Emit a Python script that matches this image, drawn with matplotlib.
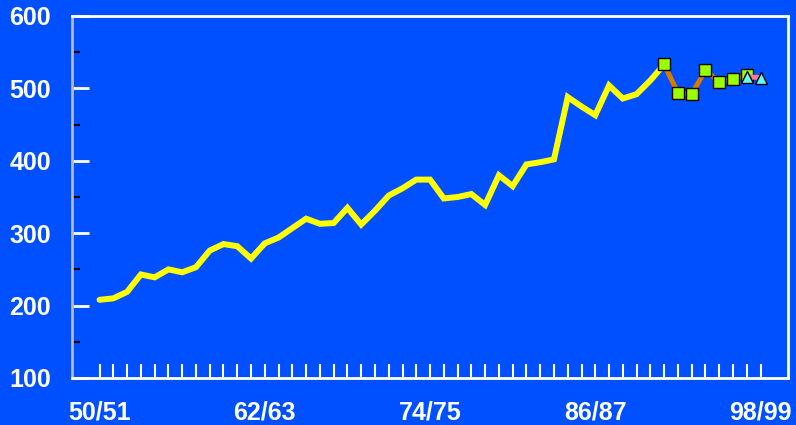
import matplotlib
matplotlib.use("Agg")
import matplotlib.pyplot as plt
from matplotlib.ticker import MultipleLocator, FixedLocator

# seasons 50/51 .. 98/99 (index 0 = 50/51)
seasons = [f"{y % 100:02d}/{(y + 1) % 100:02d}" for y in range(1950, 1999)]
tick_seasons = ["50/51", "62/63", "74/75", "86/87", "98/99"]

# historic series (yellow), 50/51 .. 91/92
hist_values = [208, 210, 219, 243, 239, 250, 246, 253, 276, 285,
               282, 265, 286, 294, 307, 320, 313, 314, 335, 312,
               331, 352, 362, 374, 374, 348, 350, 354, 339, 380,
               365, 395, 398, 402, 488, 475, 463, 504, 486, 492,
               511, 533]

# recent series (orange line, green squares), 91/92 .. 97/98
recent_start = 41
recent_values = [533, 494, 492, 525, 509, 513, 518]

# projection series (pink line, cyan triangles), 97/98 .. 98/99
proj_start = 47
proj_values = [516, 515]

BG = "#0050ff"

fig = plt.figure(figsize=(7.96, 4.25), dpi=100, facecolor=BG)
ax = fig.add_axes([0.0905, 0.1106, 0.8995, 0.8518], facecolor=BG)

ax.plot(range(len(hist_values)), hist_values, color="#ffff00", lw=4.3,
        solid_capstyle="round", solid_joinstyle="miter", zorder=3)
ax.plot(range(recent_start, recent_start + len(recent_values)), recent_values,
        color="#d97a00", lw=3.6, marker="s", markersize=8.5,
        markerfacecolor="#99ff00", markeredgecolor="black", markeredgewidth=1.0,
        zorder=4)
ax.plot(range(proj_start, proj_start + len(proj_values)), proj_values,
        color="#ff7799", lw=3.6, marker="^", markersize=9,
        markerfacecolor="#66ffee", markeredgecolor="black", markeredgewidth=1.0,
        zorder=5)

ax.set_xlim(-2, 50)
ax.set_ylim(100, 600)

ax.set_xticks([seasons.index(s) for s in tick_seasons])
ax.set_xticklabels(tick_seasons)
ax.xaxis.set_minor_locator(FixedLocator(range(len(seasons))))
ax.yaxis.set_major_locator(MultipleLocator(100))
ax.yaxis.set_minor_locator(MultipleLocator(50))

ax.tick_params(axis="x", which="both", direction="in", length=10, width=1.5,
               color="white", top=False)
ax.tick_params(axis="x", which="major", pad=16, labelsize=18,
               labelcolor="white")
ax.tick_params(axis="y", which="major", direction="in", length=12, width=2,
               color="white", pad=15, labelsize=18, labelcolor="white")
ax.tick_params(axis="y", which="minor", direction="in", length=6, width=1.5,
               color="black")

for lab in ax.get_xticklabels() + ax.get_yticklabels():
    lab.set_fontweight("bold")
    lab.set_fontfamily("Liberation Sans")

ax.spines["left"].set_color("#b8b8b8")
ax.spines["left"].set_linewidth(2)
for side in ("top", "right", "bottom"):
    ax.spines[side].set_color("white")
    ax.spines[side].set_linewidth(2)

fig.savefig("out.png", dpi=100, facecolor=BG)
